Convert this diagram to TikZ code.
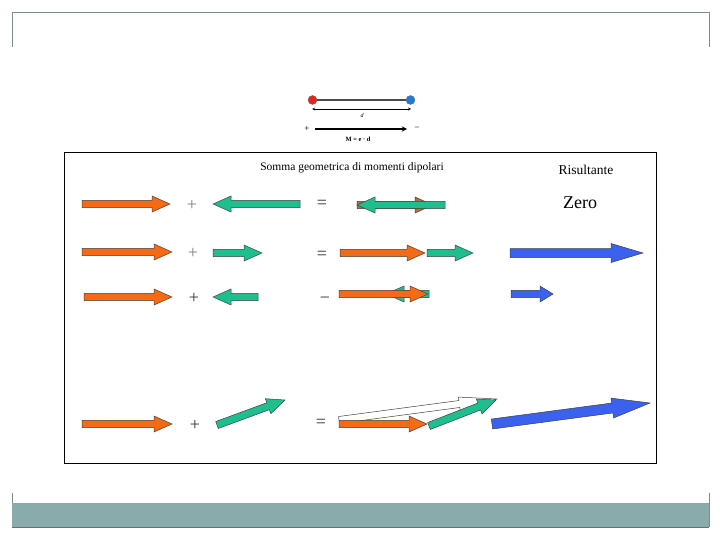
\documentclass[tikz,border=0pt]{standalone}
\usepackage{fontspec}
\setmainfont{Liberation Serif}
\usetikzlibrary{arrows, calc}
\definecolor{vecorange}{HTML}{F56A14}
\definecolor{vecgreen}{HTML}{1FBE8E}
\definecolor{vecblue}{HTML}{3A62EE}
\definecolor{vecbrown}{HTML}{B0703A}
\definecolor{bandteal}{HTML}{8AABAB}
\definecolor{framegray}{HTML}{7F8C8C}
\definecolor{chargered}{HTML}{E8231E}
\definecolor{chargeblue}{HTML}{1F7BE0}
\tikzset{
	shaft/.store in=\vshaft, headw/.store in=\vheadw,
	headl/.store in=\vheadl, vfill/.store in=\vfill,
	shaft=3.7pt, headw=8pt, headl=18pt, vfill=vecorange,
	vec/.style={draw=black!75, line width=0.5pt, line join=miter},
	opsign/.style={font=\fontsize{18}{18}\selectfont, text=black!80},
	charge/.style={circle, draw=black!60, line width=0.3pt,
		minimum size=9pt, inner sep=0pt},
	myarrow/.style={->, >=stealth, thick}
}
% fat vector arrow from #2 to #3
\newcommand{\vecarrow}[3][]{%
	\begin{scope}[#1]
		\coordinate (vh) at ($(#3)!\vheadl!(#2)$);
		\draw[vec, fill=\vfill] ($(#2)!\vshaft!90:(#3)$) -- ($(vh)!\vshaft!90:(#3)$)
		-- ($(vh)!\vheadw!90:(#3)$) -- (#3) -- ($(vh)!\vheadw!-90:(#3)$)
		-- ($(vh)!\vshaft!-90:(#3)$) -- ($(#2)!\vshaft!-90:(#3)$) -- cycle;
	\end{scope}}

\begin{document}
\begin{tikzpicture}[x=1pt, y=-1pt]
	\useasboundingbox (0,0) rectangle (720,540);
	
	%% slide frame
	\draw[framegray, line width=0.8pt] (12,47) -- (12,12) -- (709,12) -- (709,47);
	\draw[framegray, line width=0.8pt] (12,493) -- (12,527) (709,493) -- (709,527);
	\fill[bandteal] (12,503) rectangle (709,527);
	\draw[framegray!80!black, line width=0.6pt] (12,527) -- (709,527);
	
	%% dipole
	\node[charge, fill=chargered] (qpos) at (312.5,100) {};
	\node[charge, fill=chargeblue] (qneg) at (410.5,100) {};
	\draw[gray!60!black, line width=1.5pt] (qpos) -- (qneg);
	\coordinate (dL) at (312,109);
	\coordinate (dR) at (411,109);
	\draw[<->, >=stealth, line width=0.4pt] (dL) -- (dR);
	\node[font=\fontsize{6}{6}\selectfont\itshape] (dlab) at (362,115) {d};
	\node[font=\fontsize{9}{9}\selectfont] (plus) at (307,129) {+};
	\node[font=\fontsize{9}{9}\selectfont] (minus) at (417,129) {−};
	\draw[myarrow, line width=1.3pt] (315,129) -- (407,129);
	\node[font=\fontsize{6.5}{6.5}\selectfont\bfseries] (mlab) at (358,139) {M = e · d};
	
	%% inner box
	\draw[line width=0.8pt] (64,152) rectangle (656,463);
	\node[font=\fontsize{11.5}{11.5}\selectfont] (title) at (352,168)
	{Somma geometrica di momenti dipolari};
	\node[font=\fontsize{13.5}{13.5}\selectfont] (ris) at (586,170) {Risultante};
	
	%% row 1: opposite, equal
	\coordinate (a1s) at (82,204);  \coordinate (a1e) at (170,204);
	\coordinate (b1s) at (300,204); \coordinate (b1e) at (213,204);
	\coordinate (c1s) at (357,205); \coordinate (c1e) at (433,205);
	\coordinate (d1s) at (445,205); \coordinate (d1e) at (357,205);
	\vecarrow{a1s}{a1e}
	\vecarrow[vfill=vecgreen]{b1s}{b1e}
	\vecarrow[vfill=vecbrown]{c1s}{c1e}
	\vecarrow[vfill=vecgreen]{d1s}{d1e}
	\node[opsign, text=gray] (op1) at (192,205) {+};
	\node[opsign] (eq1) at (322,204) {=};
	\node[font=\fontsize{18}{18}\selectfont] (zero) at (580,203) {Zero};
	
	%% row 2: parallel
	\coordinate (a2s) at (82,252);  \coordinate (a2e) at (172,252);
	\coordinate (b2s) at (213,253); \coordinate (b2e) at (262,253);
	\coordinate (c2s) at (340,253); \coordinate (c2e) at (425,253);
	\coordinate (d2s) at (427,253); \coordinate (d2e) at (473,253);
	\coordinate (r2s) at (510,253); \coordinate (r2e) at (643,253);
	\vecarrow{a2s}{a2e}
	\vecarrow[vfill=vecgreen]{b2s}{b2e}
	\vecarrow{c2s}{c2e}
	\vecarrow[vfill=vecgreen]{d2s}{d2e}
	\vecarrow[vfill=vecblue, shaft=4.5pt, headw=9.5pt, headl=32pt]{r2s}{r2e}
	\node[opsign, text=gray] (op2) at (193,253) {+};
	\node[opsign] (eq2) at (322,255) {=};
	
	%% row 3: antiparallel
	\coordinate (a3s) at (84,297);  \coordinate (a3e) at (172,297);
	\coordinate (b3s) at (258,297); \coordinate (b3e) at (213,297);
	\coordinate (d3s) at (429,294); \coordinate (d3e) at (386,294);
	\coordinate (c3s) at (339,294); \coordinate (c3e) at (428,294);
	\coordinate (r3s) at (511,294); \coordinate (r3e) at (553,294);
	\vecarrow{a3s}{a3e}
	\vecarrow[vfill=vecgreen]{b3s}{b3e}
	\vecarrow[vfill=vecgreen]{d3s}{d3e}
	\vecarrow{c3s}{c3e}
	\vecarrow[vfill=vecblue, headl=13pt]{r3s}{r3e}
	\node[opsign] (op3) at (194,298) {+};
	\node[opsign] (eq3) at (325,300) {−};
	
	%% row 4: at an angle
	\coordinate (a4s) at (82,424);  \coordinate (a4e) at (172,424);
	\coordinate (b4s) at (217,425); \coordinate (b4e) at (285,400);
	\coordinate (w4s) at (339,420); \coordinate (w4e) at (497,399);
	\coordinate (c4s) at (339,424); \coordinate (c4e) at (427,424);
	\coordinate (d4s) at (429,426); \coordinate (d4e) at (496,400);
	\coordinate (r4s) at (492,424); \coordinate (r4e) at (650,403);
	\vecarrow{a4s}{a4e}
	\vecarrow[vfill=vecgreen]{b4s}{b4e}
	\vecarrow[vfill=white, shaft=3.5pt, headw=7pt, headl=38pt]{w4s}{w4e}
	\vecarrow{c4s}{c4e}
	\vecarrow[vfill=vecgreen]{d4s}{d4e}
	\vecarrow[vfill=vecblue, shaft=5pt, headw=10pt, headl=38pt]{r4s}{r4e}
	\node[opsign] (op4) at (195,425) {+};
	\node[opsign] (eq4) at (321,423) {=};
	
\end{tikzpicture}
\end{document}
